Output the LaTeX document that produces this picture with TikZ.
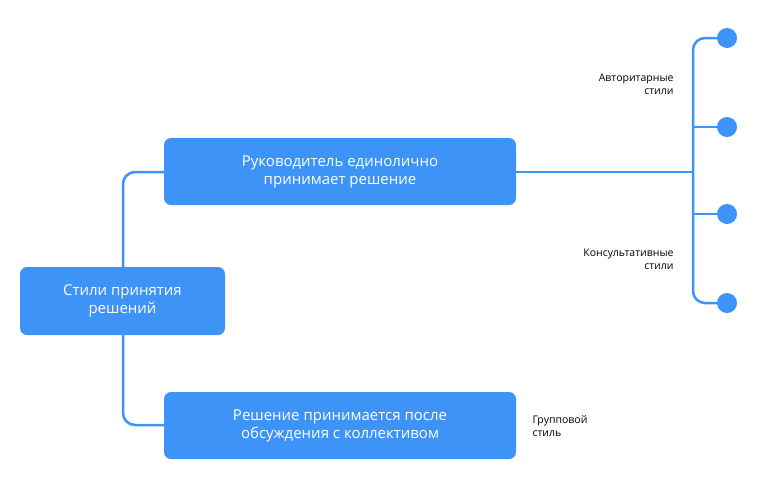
\documentclass[tikz,border=0pt]{standalone}
\usepackage{fontspec}
\setmainfont{Open Sans}
\definecolor{bl}{HTML}{3D94F6}
\begin{document}
\begin{tikzpicture}[x=1pt,y=-1pt,
 box/.style={fill=bl,rounded corners=7pt,text=white,align=center,font=\fontsize{15}{18}\selectfont,inner sep=0pt},
 ln/.style={draw=bl,line width=2.5pt,rounded corners=12pt},
 dot/.style={circle,fill=bl,minimum size=20pt,inner sep=0pt},
 lab/.style={font=\fontsize{10.5}{13}\selectfont,align=right,text=black}]
\useasboundingbox (0,0) rectangle (760,491);
\coordinate (ra) at (123,267); \coordinate (rb) at (123,335);
\coordinate (tl) at (164,172); \coordinate (bl2) at (164,425);
\draw[ln] (ra) |- (tl);
\draw[ln] (rb) |- (bl2);
\node[dot] (c1) at (727,38) {};
\node[dot] (c2) at (727,127) {};
\node[dot] (c3) at (727,214) {};
\node[dot] (c4) at (727,303) {};
\coordinate (tr) at (516,172);
\draw[ln] (tr) -- (693,172);
\draw[ln] (c1.center) -- (693,38) -- (693,303) -- (c4.center);
\draw[ln,rounded corners=0] (693,127) -- (c2.center);
\draw[ln,rounded corners=0] (693,214) -- (c3.center);
\node[box,minimum width=205pt,minimum height=68pt] (root) at (122.5,301) {Стили принятия\\решений};
\node[box,minimum width=352pt,minimum height=67pt] (top) at (340,171.5) {Руководитель единолично\\принимает решение};
\node[box,minimum width=352pt,minimum height=67pt] (bot) at (340,425.5) {Решение принимается после\\обсуждения с коллективом};
\node[lab,anchor=east] (l1) at (677,84) {Авторитарные\\стили};
\node[lab,anchor=east] (l2) at (677,259) {Консультативные\\стили};
\node[lab,anchor=west,align=left] (l3) at (529,426) {Групповой\\стиль};
\end{tikzpicture}
\end{document}
